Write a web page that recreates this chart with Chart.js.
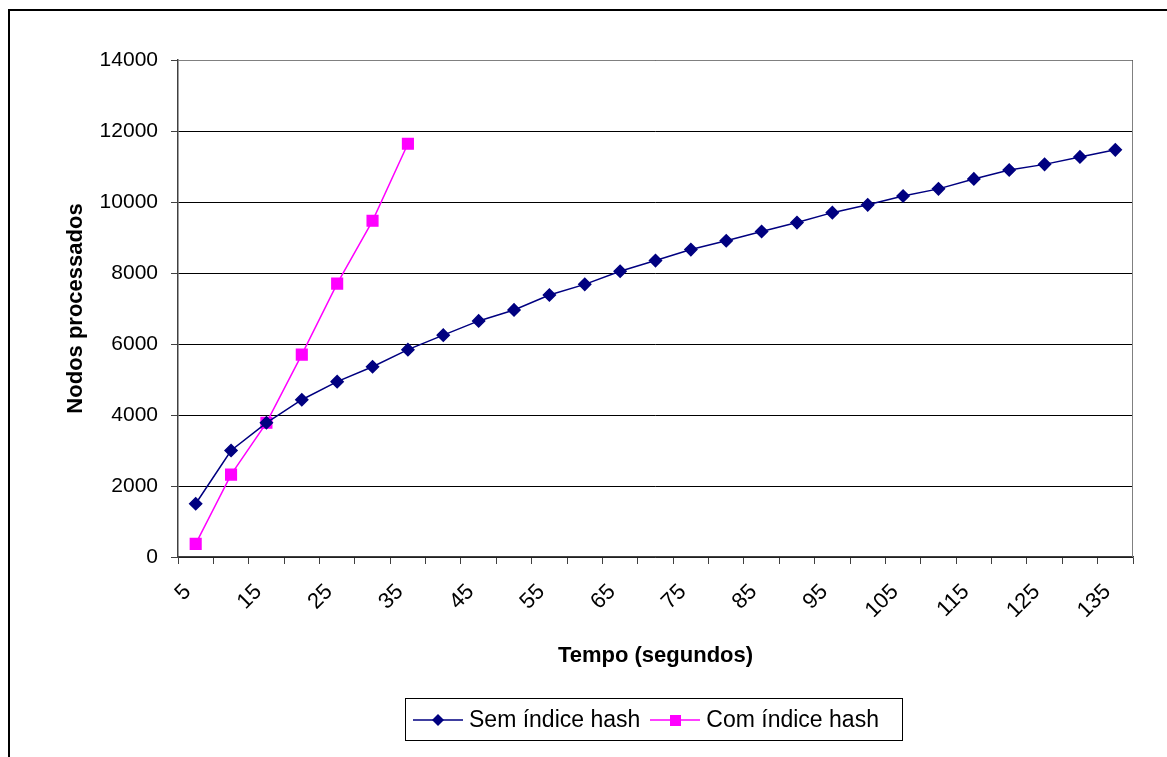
<!DOCTYPE html>
<html>
<head>
<meta charset="utf-8">
<script src="https://cdn.jsdelivr.net/npm/chart.js@4"></script>
<style>
  html, body { margin: 0; padding: 0; background: #fff; }
  #wrap { position: relative; width: 1167px; height: 757px; overflow: hidden; }
  #frame { position: absolute; left: 8px; top: 9px; width: 1200px; height: 800px; border: 2px solid #000; box-sizing: border-box; }
  #grafico { position: absolute; left: 0; top: 0; }
  #legenda { position: absolute; left: 405px; top: 698px; width: 498px; height: 43px; border: 1px solid #000; box-sizing: border-box;
    font-family: "Liberation Sans", Arial, sans-serif; font-size: 23px; color: #000; display: flex; align-items: center; padding-left: 7px; }
  .item { display: flex; align-items: center; margin-right: 10px; }
  .item canvas { margin-right: 6px; }
</style>
</head>
<body>
<div id="wrap">
  <div id="frame"></div>
  <canvas id="grafico" width="1167" height="757"></canvas>
  <div id="legenda">
    <div class="item"><canvas id="leg1" width="50" height="20"></canvas><span>Sem índice hash</span></div>
    <div class="item"><canvas id="leg2" width="50" height="20"></canvas><span>Com índice hash</span></div>
  </div>
</div>
<script>
// tempo em segundos (eixo x)
const tempos = [5, 10, 15, 20, 25, 30, 35, 40, 45, 50, 55, 60, 65, 70, 75, 80, 85, 90, 95, 100, 105, 110, 115, 120, 125, 130, 135];
// nodos processados
const semIndice = [1500, 3000, 3780, 4430, 4940, 5360, 5840, 6250, 6650, 6960, 7380, 7680, 8050, 8350, 8660, 8910, 9170, 9420, 9700, 9920, 10170, 10370, 10650, 10900, 11060, 11270, 11470];
const comIndice = [370, 2320, 3780, 5700, 7700, 9470, 11640];

const azul = '#000080';
const rosa = '#FF00FF';
const fonte = '"Liberation Sans", Arial, sans-serif';

// borda cinza da área de plotagem
const bordaArea = {
  id: 'bordaArea',
  beforeDatasetsDraw(chart) {
    const a = chart.chartArea;
    const ctx = chart.ctx;
    ctx.save();
    ctx.strokeStyle = '#808080';
    ctx.lineWidth = 1;
    ctx.beginPath();
    ctx.moveTo(a.left, a.top + 0.5);
    ctx.lineTo(a.right - 0.5, a.top + 0.5);
    ctx.lineTo(a.right - 0.5, a.bottom);
    ctx.stroke();
    ctx.restore();
  }
};

new Chart(document.getElementById('grafico').getContext('2d'), {
  type: 'line',
  data: {
    labels: tempos,
    datasets: [
      {
        label: 'Sem índice hash',
        data: semIndice,
        borderColor: azul,
        backgroundColor: azul,
        borderWidth: 1.5,
        pointStyle: 'rectRot',
        pointRadius: 6,
        pointHoverRadius: 6,
        tension: 0
      },
      {
        label: 'Com índice hash',
        data: comIndice,
        borderColor: rosa,
        backgroundColor: rosa,
        borderWidth: 1.5,
        pointStyle: 'rect',
        pointRadius: 7.5,
        pointHoverRadius: 7.5,
        tension: 0
      }
    ]
  },
  options: {
    responsive: false,
    animation: false,
    layout: { padding: { left: 63, top: 60, right: 34, bottom: 85 } },
    plugins: {
      legend: { display: false },
      tooltip: { enabled: false }
    },
    scales: {
      x: {
        offset: true,
        afterFit: s => { s.height = 115; },
        grid: { drawOnChartArea: false, drawTicks: true, tickLength: 7, color: '#404040', offset: true },
        border: { color: '#404040', width: 1.5 },
        ticks: {
          autoSkip: false,
          maxRotation: 45,
          minRotation: 45,
          labelOffset: -8,
          padding: 15,
          color: '#000',
          font: { family: fonte, size: 22 },
          callback: function (v, i) { return i % 2 === 0 ? this.getLabelForValue(v) : ''; }
        },
        title: {
          display: true,
          text: 'Tempo (segundos)',
          color: '#000',
          font: { family: fonte, size: 22, weight: 'bold' },
          padding: { top: 0, bottom: 3 }
        }
      },
      y: {
        min: 0,
        max: 14000,
        afterFit: s => { s.width = 115; },
        grid: { color: '#000', lineWidth: 1, tickLength: 7, tickColor: '#404040' },
        border: { color: '#404040', width: 1.5 },
        ticks: {
          stepSize: 2000,
          padding: 13,
          color: '#000',
          font: { family: fonte, size: 21 },
          callback: v => String(v)
        },
        title: {
          display: true,
          text: 'Nodos processados',
          color: '#000',
          font: { family: fonte, size: 22, weight: 'bold' },
          padding: { top: 0, bottom: 0 }
        }
      }
    }
  },
  plugins: [bordaArea]
});

// símbolos da legenda (linha com marcador)
function simbolo(id, cor, forma) {
  const ctx = document.getElementById(id).getContext('2d');
  ctx.strokeStyle = cor;
  ctx.fillStyle = cor;
  ctx.lineWidth = 1.5;
  ctx.beginPath();
  ctx.moveTo(0, 10);
  ctx.lineTo(50, 10);
  ctx.stroke();
  ctx.beginPath();
  if (forma === 'losango') {
    ctx.moveTo(25, 4); ctx.lineTo(31, 10); ctx.lineTo(25, 16); ctx.lineTo(19, 10);
  } else {
    ctx.rect(20, 5, 11, 11);
  }
  ctx.fill();
}
simbolo('leg1', azul, 'losango');
simbolo('leg2', rosa, 'quadrado');
</script>
</body>
</html>
